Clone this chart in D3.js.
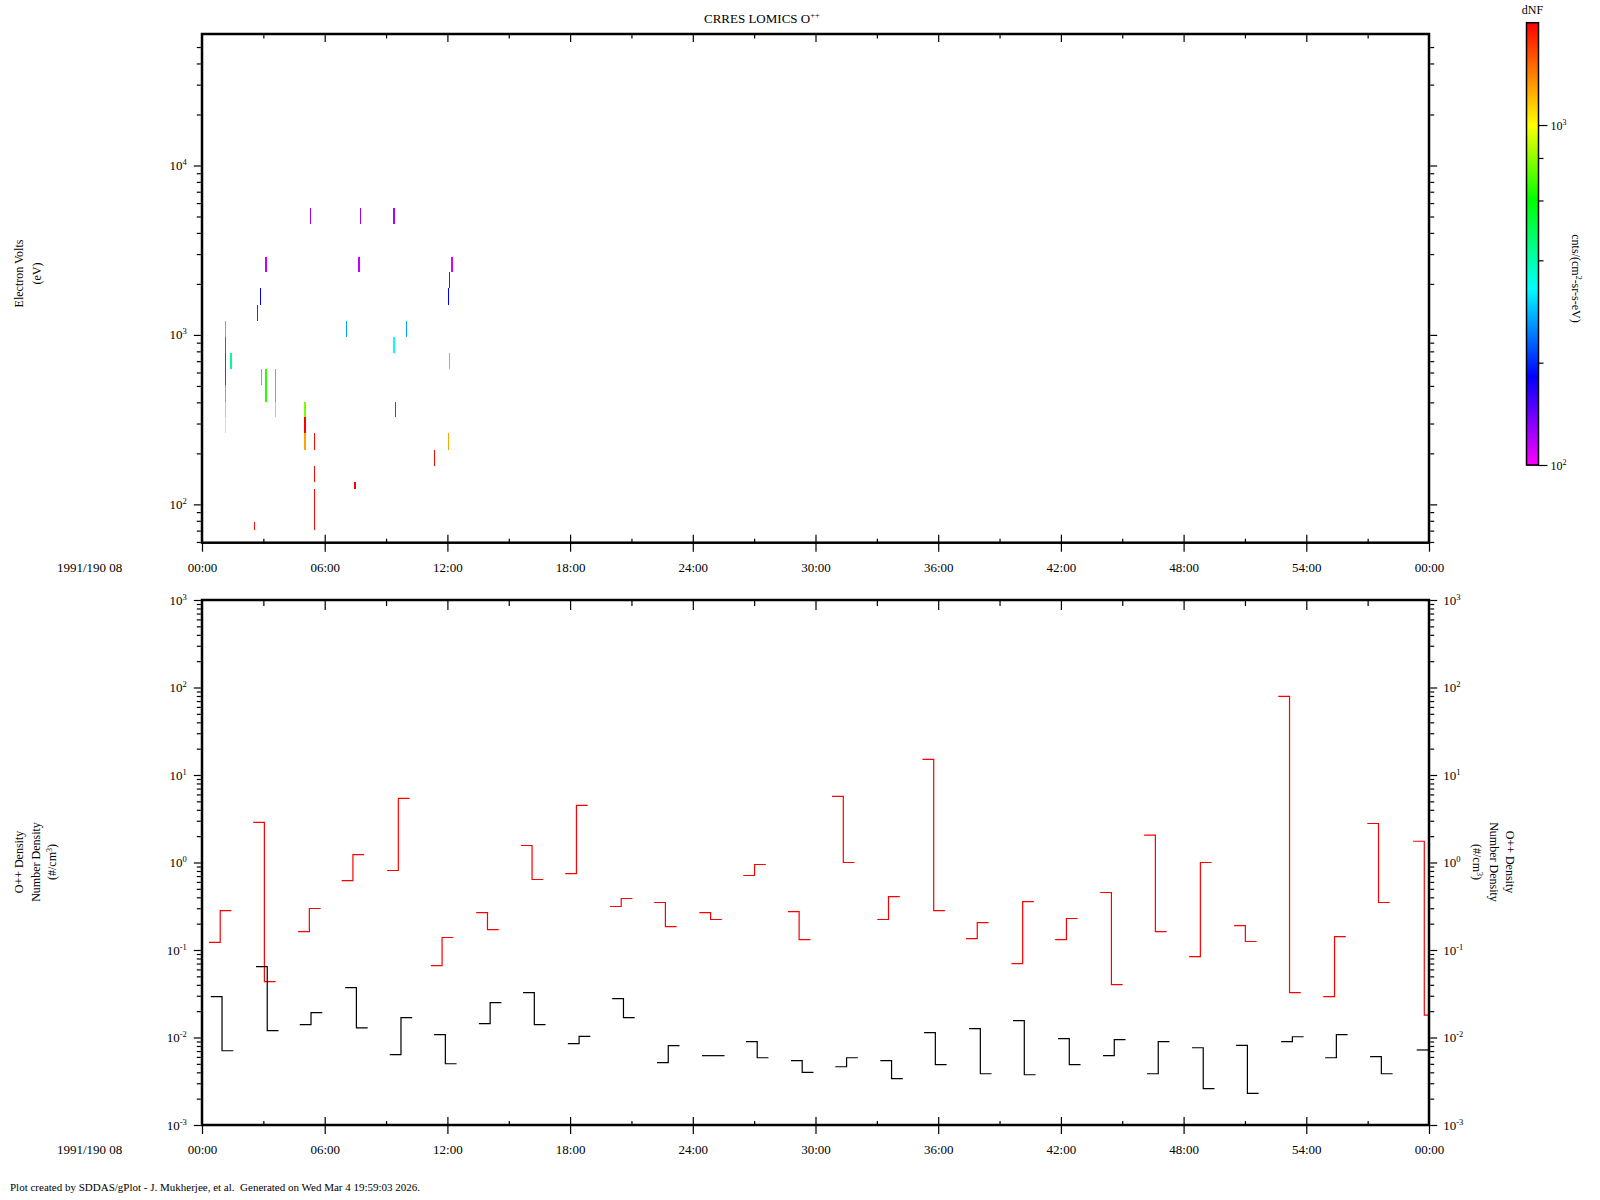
<!DOCTYPE html>
<html>
<head>
<meta charset="utf-8">
<title>CRRES LOMICS O++</title>
<script src="https://cdn.jsdelivr.net/npm/d3@7"></script>
<style>
  body { margin: 0; background: #fff; }
  svg text { font-family: "Liberation Serif", "DejaVu Serif", serif; fill: #000; }
</style>
</head>
<body>
<div id="chart"></div>
<script>
// time axis: minutes after 1991/190 08:00
const timeTicks = [0, 6, 12, 18, 24, 30, 36, 42, 48, 54, 60];
const timeLabels = ["00:00", "06:00", "12:00", "18:00", "24:00", "30:00", "36:00", "42:00", "48:00", "54:00", "00:00"];
const minorTimeTicks = [3, 9, 15, 21, 27, 33, 39, 45, 51, 57];

// spectrogram cells (start minute, duration in minutes, energy band in eV, dNF)
const cellStart = [1.12, 1.12, 1.12, 1.12, 1.12, 1.12, 1.12, 1.37, 2.53, 2.69, 2.82, 2.87, 3.08, 3.08, 3.08, 3.58, 3.58, 3.58,
                   4.98, 4.98, 4.98, 5.29, 5.48, 5.48, 5.48, 7.04, 7.44, 7.62, 7.73, 9.33, 9.33, 9.43, 9.99, 11.35,
                   12.04, 12.04, 12.07, 12.07, 12.2];
const cellDur = [0.05, 0.05, 0.05, 0.05, 0.05, 0.05, 0.05, 0.09, 0.05, 0.05, 0.05, 0.05, 0.09, 0.09, 0.09, 0.05, 0.05, 0.05,
                 0.1, 0.1, 0.1, 0.05, 0.05, 0.05, 0.05, 0.05, 0.08, 0.09, 0.05, 0.09, 0.09, 0.05, 0.05, 0.05,
                 0.05, 0.05, 0.05, 0.05, 0.07];
const cellElo = [973, 783, 630, 507, 404, 328, 264, 630, 70.5, 1215, 1503, 507, 2366, 507, 404, 507, 404, 328,
                 328, 264, 210, 4540, 210, 135, 70.5, 973, 123, 2366, 4540, 4540, 783, 328, 973, 168,
                 1503, 210, 1900, 630, 2366];
const cellEhi = [1215, 973, 783, 630, 507, 404, 328, 783, 79, 1503, 1900, 630, 2890, 630, 507, 630, 507, 404,
                 404, 328, 264, 5623, 264, 168, 123, 1215, 135, 2890, 5623, 5623, 973, 404, 1215, 210,
                 1900, 264, 2366, 783, 2890];
const cellFlux = [520, 1810, 1950, 1950, 1380, 813, 1035, 430, 1900, 211, 182, 520, 115, 653, 653, 540, 1400, 813,
                  759, 2000, 1276, 125, 1950, 1950, 1950, 266, 2000, 115, 125, 122, 331, 1950, 266, 1950,
                  182, 1276, 145, 405, 110];

// colour bar
const fluxStops = [100, 182, 331, 603, 1000, 2000];
const fluxColors = ["#ff00ff", "#0000ff", "#00ffff", "#00ff00", "#ffff00", "#ff0000"];
const fluxMinor = [200, 400, 600, 800];

// O++ density, two samples per group: group start (min), first value, second value
const redStart = [0.34, 2.50, 4.70, 6.83, 9.05, 11.19, 13.41, 15.59, 17.76, 19.95, 22.11, 24.32, 26.47, 28.65,
                  30.81, 33.02, 35.23, 37.36, 39.58, 41.72, 43.92, 46.07, 48.27, 50.47, 52.63, 54.83, 56.98, 59.22];
const redFirst = [0.122, 2.87, 0.162, 0.622, 0.81, 0.0663, 0.268, 1.565, 0.748, 0.314, 0.349, 0.268, 0.71, 0.275,
                  5.69, 0.223, 15.1, 0.135, 0.0699, 0.1315, 0.454, 2.05, 0.084, 0.19, 79.3, 0.0293, 2.79, 1.75];
const redSecond = [0.282, 0.0435, 0.298, 1.23, 5.4, 0.139, 0.171, 0.639, 4.49, 0.388, 0.185, 0.223, 0.949, 0.1315,
                   1.0, 0.408, 0.282, 0.206, 0.358, 0.229, 0.0402, 0.1625, 1.0, 0.125, 0.0326, 0.142, 0.349, 0.018];

const blackStart = [0.43, 2.64, 4.78, 7.00, 9.18, 11.35, 13.54, 15.70, 17.89, 20.06, 22.25, 24.45, 26.60, 28.80,
                    30.97, 33.17, 35.31, 37.51, 39.66, 41.86, 44.06, 46.21, 48.41, 50.57, 52.77, 54.92, 57.12, 59.4];
const blackFirst = [0.0293, 0.0646, 0.014, 0.0371, 0.00636, 0.0108, 0.0144, 0.0326, 0.0085, 0.0278, 0.00515, 0.0062,
                    0.00895, 0.00543, 0.00463, 0.00543, 0.01135, 0.0126, 0.01557, 0.00969, 0.0062, 0.00385, 0.00764,
                    0.00814, 0.00895, 0.00587, 0.00603, 0.0072];
const blackSecond = [0.00706, 0.01197, 0.0192, 0.0129, 0.0169, 0.00501, 0.025, 0.014, 0.0103, 0.0169, 0.00806, 0.0062,
                     0.00587, 0.00399, 0.00587, 0.00338, 0.00489, 0.00385, 0.00375, 0.00489, 0.00944, 0.00895, 0.0026,
                     0.0023, 0.0102, 0.01076, 0.00385, 0.0072];
const binWidth = 0.55; // minutes per sample

// layout
const width = 1600, height = 1200;
const plotLeft = 202, plotRight = 1429;
const topPanel = { top: 34, bottom: 542.7 };
const botPanel = { top: 600, bottom: 1125 };
const bar = { left: 1526.5, right: 1538.5, top: 22.7, bottom: 465 };

const svg = d3.select("#chart")
    .append("svg")
    .attr("width", width)
    .attr("height", height);

const x = d3.scaleLinear().domain([0, 60]).range([plotLeft, plotRight]);
const yE = d3.scaleLog().domain([59.4, 59700]).range([topPanel.bottom, topPanel.top]);
const yN = d3.scaleLog().domain([1e-3, 1e3]).range([botPanel.bottom, botPanel.top]);
const color = d3.scaleLog().domain(fluxStops).range(fluxColors).clamp(true);
const yC = d3.scaleLog().domain([100, 2000]).range([bar.bottom, bar.top]);

function isDecade(v) {
    return Math.abs(Math.log10(v) - Math.round(Math.log10(v))) < 1e-6;
}

// "10" with a raised exponent
function powLabel(text, v, small) {
    const e = Math.round(Math.log10(v));
    text.append("tspan").text("10");
    text.append("tspan")
        .attr("dy", -5)
        .attr("font-size", small)
        .text(e);
}

function styleAxis(g) {
    g.select(".domain").remove();
    g.selectAll(".tick line").attr("stroke", "#000").attr("stroke-width", 1.2);
    g.attr("font-family", null).attr("font-size", null);
}

// y axis ticks (outward) with optional labels
function yAxis(scale, xPos, side, withLabels) {
    const all = scale.ticks();
    const majors = all.filter(isDecade);
    const minors = all.filter(v => !isDecade(v));
    const make = side === "left" ? d3.axisLeft : d3.axisRight;

    svg.append("g")
        .attr("transform", `translate(${xPos},0)`)
        .call(make(scale).tickValues(minors).tickSize(4).tickFormat(""))
        .call(styleAxis);
    svg.append("g")
        .attr("transform", `translate(${xPos},0)`)
        .call(make(scale).tickValues(majors).tickSize(7).tickFormat(""))
        .call(styleAxis);

    if (!withLabels) return;
    majors.forEach(v => {
        const t = svg.append("text")
            .attr("x", side === "left" ? xPos - 14 : xPos + 13)
            .attr("y", scale(v) + 4.5)
            .attr("text-anchor", side === "left" ? "end" : "start")
            .attr("font-size", 13);
        powLabel(t, v, 8.5);
    });
}

// x axis along the bottom edge of a panel: major ticks cross the frame, minors inside
function xAxisBottom(yPos) {
    svg.append("g")
        .attr("transform", `translate(0,${yPos})`)
        .call(d3.axisBottom(x).tickValues(timeTicks).tickSize(9).tickPadding(11)
            .tickFormat((d, i) => timeLabels[i]))
        .call(styleAxis)
        .selectAll("text")
        .attr("font-size", 13);
    svg.append("g")
        .attr("transform", `translate(0,${yPos})`)
        .call(d3.axisTop(x).tickValues(timeTicks.slice(1, -1)).tickSize(8).tickFormat(""))
        .call(styleAxis);
    svg.append("g")
        .attr("transform", `translate(0,${yPos})`)
        .call(d3.axisTop(x).tickValues(minorTimeTicks).tickSize(4).tickFormat(""))
        .call(styleAxis);
    svg.append("text")
        .attr("x", 57)
        .attr("y", yPos + 29)
        .attr("font-size", 13)
        .text("1991/190 08");
}

// ticks along the top edge of a panel, pointing inside
function xAxisTop(yPos, majorLen, minorLen) {
    svg.append("g")
        .attr("transform", `translate(0,${yPos})`)
        .call(d3.axisBottom(x).tickValues(timeTicks.slice(1, -1)).tickSize(majorLen).tickFormat(""))
        .call(styleAxis);
    svg.append("g")
        .attr("transform", `translate(0,${yPos})`)
        .call(d3.axisBottom(x).tickValues(minorTimeTicks).tickSize(minorLen).tickFormat(""))
        .call(styleAxis);
}

function frame(p) {
    svg.append("rect")
        .attr("x", plotLeft)
        .attr("y", p.top)
        .attr("width", plotRight - plotLeft)
        .attr("height", p.bottom - p.top)
        .attr("fill", "none")
        .attr("stroke", "#000")
        .attr("stroke-width", 2.5);
}

function rotatedLines(lines, xs, y, angle) {
    lines.forEach((line, i) => {
        const t = svg.append("text")
            .attr("transform", `translate(${xs[i]},${y}) rotate(${angle})`)
            .attr("text-anchor", "middle")
            .attr("font-size", 12);
        line.forEach(part => {
            const s = t.append("tspan").text(part.text);
            if (part.sup) s.attr("dy", -4).attr("font-size", 8);
            if (part.down) s.attr("dy", 4);
        });
    });
}

// ---------- title ----------
const title = svg.append("text")
    .attr("x", 704)
    .attr("y", 22.5)
    .attr("font-size", 13)
    .text("CRRES LOMICS O");
title.append("tspan").attr("dy", -5).attr("font-size", 8.5).text("++");

// ---------- top panel: spectrogram ----------
const cells = cellStart.map((t, i) => ({
    t: t, dur: cellDur[i], lo: cellElo[i], hi: cellEhi[i], flux: cellFlux[i]
}));

svg.append("g")
    .selectAll("rect")
    .data(cells)
    .enter()
    .append("rect")
    .attr("x", d => x(d.t))
    .attr("y", d => yE(d.hi))
    .attr("width", d => Math.max(1, x(d.t + d.dur) - x(d.t)))
    .attr("height", d => yE(d.lo) - yE(d.hi))
    .attr("fill", d => color(d.flux))
    .attr("shape-rendering", "crispEdges");

frame(topPanel);
yAxis(yE, plotLeft - 1.2, "left", true);
yAxis(yE, plotRight + 1.2, "right", false);
xAxisBottom(topPanel.bottom);
xAxisTop(topPanel.top, 8, 4.5);

rotatedLines([[{ text: "Electron Volts" }], [{ text: "(eV)" }]], [23, 41], 273.5, -90);

// ---------- colour bar ----------
const barRows = d3.range(bar.top, bar.bottom, 1);
svg.append("g")
    .selectAll("rect")
    .data(barRows)
    .enter()
    .append("rect")
    .attr("x", bar.left)
    .attr("y", d => d)
    .attr("width", bar.right - bar.left)
    .attr("height", 1.2)
    .attr("fill", d => color(yC.invert(d + 0.5)))
    .attr("shape-rendering", "crispEdges");

svg.append("rect")
    .attr("x", bar.left)
    .attr("y", bar.top)
    .attr("width", bar.right - bar.left)
    .attr("height", bar.bottom - bar.top)
    .attr("fill", "none")
    .attr("stroke", "#000")
    .attr("stroke-width", 1.5);

svg.append("g")
    .attr("transform", `translate(${bar.right},0)`)
    .call(d3.axisRight(yC).tickValues(fluxMinor).tickSize(5).tickFormat(""))
    .call(styleAxis);
svg.append("g")
    .attr("transform", `translate(${bar.right},0)`)
    .call(d3.axisRight(yC).tickValues([100, 1000]).tickSize(9).tickFormat(""))
    .call(styleAxis);
[100, 1000].forEach(v => {
    const t = svg.append("text")
        .attr("x", bar.right + 12)
        .attr("y", yC(v) + 4.5)
        .attr("font-size", 12);
    powLabel(t, v, 8);
});

svg.append("text")
    .attr("x", (bar.left + bar.right) / 2)
    .attr("y", 13.5)
    .attr("text-anchor", "middle")
    .attr("font-size", 12)
    .text("dNF");

rotatedLines([[{ text: "cnts/(cm" }, { text: "2", sup: true }, { text: "-sr-s-eV)", down: true }]], [1572], 278.5, 90);

// ---------- bottom panel: density steps ----------
svg.append("clipPath")
    .attr("id", "clipBottom")
    .append("rect")
    .attr("x", plotLeft)
    .attr("y", botPanel.top)
    .attr("width", plotRight - plotLeft)
    .attr("height", botPanel.bottom - botPanel.top);

const stepLine = d3.line()
    .x(d => x(d[0]))
    .y(d => yN(d[1]))
    .curve(d3.curveStepAfter);

function groups(starts, firsts, seconds) {
    return starts.map((t, i) => [[t, firsts[i]], [t + binWidth, seconds[i]], [t + 2 * binWidth, seconds[i]]]);
}

const lineLayer = svg.append("g").attr("clip-path", "url(#clipBottom)");

lineLayer.selectAll(".red")
    .data(groups(redStart, redFirst, redSecond))
    .enter()
    .append("path")
    .attr("class", "red")
    .attr("d", stepLine)
    .attr("fill", "none")
    .attr("stroke", "#ff0000")
    .attr("stroke-width", 1.2);

lineLayer.selectAll(".black")
    .data(groups(blackStart, blackFirst, blackSecond))
    .enter()
    .append("path")
    .attr("class", "black")
    .attr("d", stepLine)
    .attr("fill", "none")
    .attr("stroke", "#000")
    .attr("stroke-width", 1.2);

frame(botPanel);
yAxis(yN, plotLeft - 1.2, "left", true);
yAxis(yN, plotRight + 1.2, "right", true);
xAxisBottom(botPanel.bottom);
xAxisTop(botPanel.top, 10, 6);

rotatedLines([
    [{ text: "O++ Density" }],
    [{ text: "Number Density" }],
    [{ text: "(#/cm" }, { text: "3", sup: true }, { text: ")", down: true }]
], [23, 40, 56], 862, -90);

rotatedLines([
    [{ text: "O++ Density" }],
    [{ text: "Number Density" }],
    [{ text: "(#/cm" }, { text: "3", sup: true }, { text: ")", down: true }]
], [1506, 1490, 1473], 862, 90);

// ---------- footer ----------
svg.append("text")
    .attr("x", 10)
    .attr("y", 1191)
    .attr("font-size", 11)
    .style("white-space", "pre")
    .text("Plot created by SDDAS/gPlot - J. Mukherjee, et al.  Generated on Wed Mar 4 19:59:03 2026.");
</script>
</body>
</html>
